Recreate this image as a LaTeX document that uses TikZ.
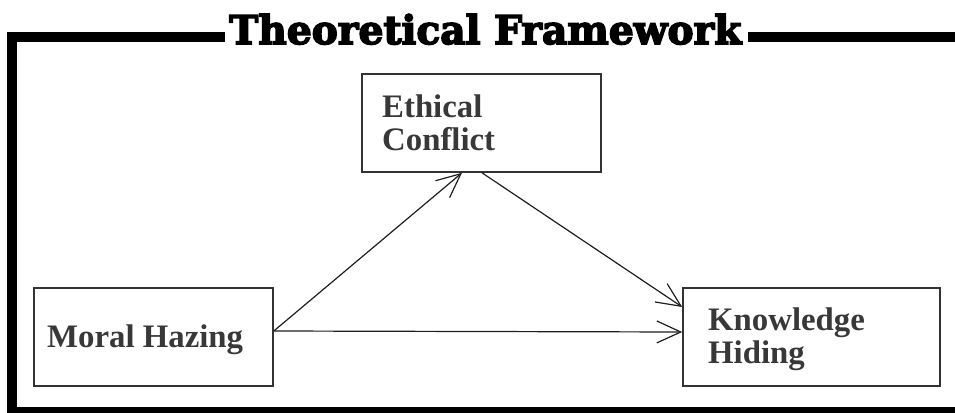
\documentclass[tikz,border=0pt]{standalone}
\usepackage{fontspec}
\setmainfont{Liberation Serif}
\newfontfamily\titlefont{DejaVu Serif}[FakeBold=4]
\usetikzlibrary{arrows.meta}
\definecolor{boxgray}{HTML}{333333}
\definecolor{txtgray}{HTML}{383838}
\definecolor{linegray}{HTML}{1E1E1E}
\tikzset{
  framebox/.style={line width=10pt, draw=black, miter limit=10},
  cbox/.style={draw=boxgray, line width=1.6pt, minimum width=#1, minimum height=98pt, inner sep=0pt},
  lbl/.style={text=txtgray, font=\fontsize{32.8pt}{33pt}\selectfont\bfseries, inner sep=0pt, align=left},
  conn/.style={draw=linegray, line width=1.2pt, -{Straight Barb[length=24pt,width=22pt,line width=1.2pt]}}
}
\begin{document}
\begin{tikzpicture}[x=1pt,y=-1pt]
\useasboundingbox (0,0) rectangle (955,412);
\clip (0,0) rectangle (955,412);
% title
\node[anchor=base west, inner sep=0pt] (title) at (229,44)
  {\resizebox{512pt}{30pt}{\titlefont\bfseries Theoretical Framework}};
% frame
\draw[framebox] (225,37.5) -- (11.75,37.5) -- (11.75,412) -- (975,412);
\draw[framebox] (748,37.5) -- (975,37.5);
% boxes
\node[cbox=239pt] (ec) at (481.5,123) {};
\node[cbox=239pt] (mh) at (153.5,337) {};
\node[cbox=257pt] (kh) at (811.5,337) {};
% labels
\node[lbl, anchor=base west] (ect) at (382,150) {Ethical\\Conflict};
\node[lbl, anchor=base west] (mht) at (47,347) {Moral Hazing};
\node[lbl, anchor=base west] (kht) at (708,363) {Knowledge\\Hiding};
% connectors
\draw[conn] ([yshift=6pt]mh.east) -- ([xshift=-19.5pt]ec.south);
\draw[conn] ([xshift=0.5pt]ec.south) -- ([yshift=30pt]kh.west);
\draw[conn] ([yshift=6pt]mh.east) -- ([yshift=5pt]kh.west);
\end{tikzpicture}
\end{document}
